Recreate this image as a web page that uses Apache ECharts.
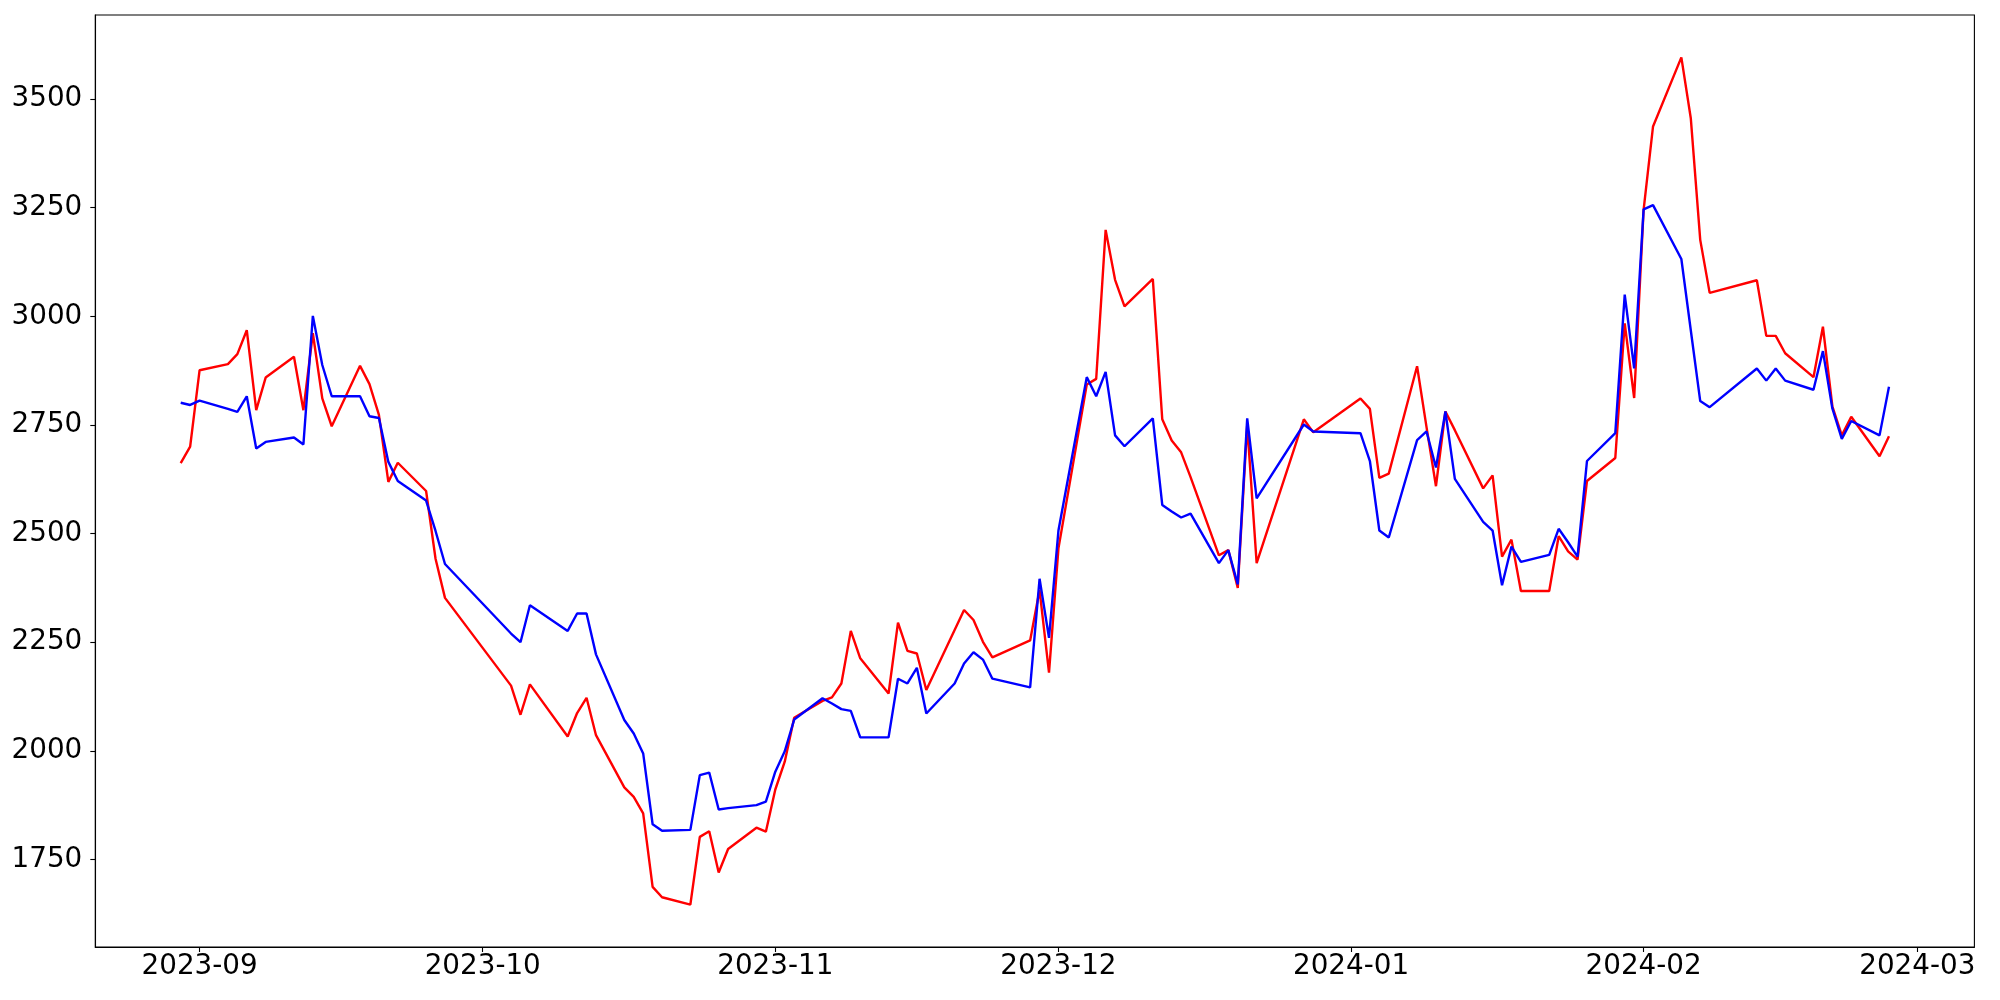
<!DOCTYPE html>
<html>
<head>
<meta charset="utf-8">
<script src="https://cdn.jsdelivr.net/npm/echarts@6/dist/echarts.min.js"></script>
<style>
html,body{margin:0;padding:0;background:#fff;}
#chart{width:2000px;height:1000px;}
</style>
</head>
<body>
<div id="chart"></div>
<script>
const dates = [
 '2023-08-30','2023-08-31','2023-09-01','2023-09-04','2023-09-05','2023-09-06','2023-09-07','2023-09-08',
 '2023-09-11','2023-09-12','2023-09-13','2023-09-14','2023-09-15','2023-09-18','2023-09-19','2023-09-20',
 '2023-09-21','2023-09-22','2023-09-25','2023-09-26','2023-09-27','2023-10-04','2023-10-05','2023-10-06',
 '2023-10-10','2023-10-11','2023-10-12','2023-10-13','2023-10-16','2023-10-17','2023-10-18','2023-10-19',
 '2023-10-20','2023-10-23','2023-10-24','2023-10-25','2023-10-26','2023-10-27','2023-10-30','2023-10-31',
 '2023-11-01','2023-11-02','2023-11-03','2023-11-06','2023-11-07','2023-11-08','2023-11-09','2023-11-10',
 '2023-11-13','2023-11-14','2023-11-15','2023-11-16','2023-11-17','2023-11-20','2023-11-21','2023-11-22',
 '2023-11-23','2023-11-24','2023-11-28','2023-11-29','2023-11-30','2023-12-01','2023-12-04','2023-12-05',
 '2023-12-06','2023-12-07','2023-12-08','2023-12-11','2023-12-12','2023-12-13','2023-12-14','2023-12-15',
 '2023-12-18','2023-12-19','2023-12-20','2023-12-21','2023-12-22','2023-12-27','2023-12-28','2024-01-02',
 '2024-01-03','2024-01-04','2024-01-05','2024-01-08','2024-01-09','2024-01-10','2024-01-11','2024-01-12',
 '2024-01-15','2024-01-16','2024-01-17','2024-01-18','2024-01-19','2024-01-22','2024-01-23','2024-01-24',
 '2024-01-25','2024-01-26','2024-01-29','2024-01-30','2024-01-31','2024-02-01','2024-02-02','2024-02-05',
 '2024-02-06','2024-02-07','2024-02-08','2024-02-13','2024-02-14','2024-02-15','2024-02-16','2024-02-19',
 '2024-02-20','2024-02-21','2024-02-22','2024-02-23','2024-02-26','2024-02-27'
];
const redValues = [
 2662,2700,2876,2890,2913,2968,2784,2859,
 2907,2784,2961,2811,2747,2886,2844,2773,
 2619,2663,2598,2442,2352,2150,2083,2153,
 2033,2087,2122,2036,1916,1894,1856,1687,
 1663,1646,1802,1815,1720,1774,1823,1814,
 1911,1975,2076,2115,2123,2155,2276,2213,
 2132,2295,2230,2224,2140,2278,2324,2301,
 2251,2215,2254,2370,2180,2466,2843,2856,
 3199,3084,3023,3086,2763,2714,2687,2630,
 2450,2462,2375,2750,2432,2763,2733,2811,
 2787,2628,2638,2885,2745,2609,2781,2738,
 2604,2634,2447,2486,2368,2368,2494,2459,
 2440,2621,2674,2984,2812,3245,3437,3596,
 3456,3176,3054,3083,2955,2955,2915,2860,
 2976,2793,2726,2769,2678,2724
];
const blueValues = [
 2801,2796,2806,2787,2780,2816,2696,2711,
 2721,2705,3001,2888,2816,2816,2770,2766,
 2665,2621,2576,2506,2430,2270,2250,2335,
 2276,2316,2316,2222,2071,2040,1994,1831,
 1816,1818,1944,1950,1865,1868,1875,1883,
 1952,1999,2072,2121,2109,2096,2092,2031,
 2031,2166,2155,2191,2086,2155,2201,2227,
 2210,2166,2146,2396,2260,2507,2860,2816,
 2872,2726,2701,2765,2566,2551,2537,2546,
 2432,2462,2383,2765,2581,2751,2735,2731,
 2667,2507,2491,2715,2735,2652,2781,2626,
 2527,2507,2381,2470,2435,2451,2511,2480,
 2447,2667,2731,3050,2880,3246,3256,3132,
 2968,2805,2791,2880,2852,2880,2852,2831,
 2920,2788,2718,2759,2726,2838
];
const yTicks = [1750, 2000, 2250, 2500, 2750, 3000, 3250, 3500];
const xTickLabels = ['2023-09','2023-10','2023-11','2023-12','2024-01','2024-02','2024-03'];

function toTs(s){ const p = s.split('-').map(Number); return Date.UTC(p[0], p[1]-1, p[2] || 1); }
const ts = dates.map(toTs);
const xTickTs = xTickLabels.map(toTs);
const labelOf = {};
xTickTs.forEach((t,i)=>{ labelOf[t] = xTickLabels[i]; });
const tMin = ts[0], tMax = ts[ts.length-1], tR = tMax - tMin;
const allV = redValues.concat(blueValues);
const vMin = Math.min.apply(null, allV), vMax = Math.max.apply(null, allV), vR = vMax - vMin;

const FONT = 'DejaVu Sans';
const chart = echarts.init(document.getElementById('chart'), null, {renderer:'canvas'});
chart.setOption({
  animation: false,
  backgroundColor: '#ffffff',
  grid: {left: 95.3, right: 25.6, top: 15, bottom: 53, show: true, borderColor: '#000', borderWidth: 1.1, backgroundColor: 'transparent'},
  xAxis: {
    type: 'value',
    min: tMin - 0.05*tR,
    max: tMax + 0.05*tR,
    splitLine: {show: false},
    axisLine: {show: true, onZero: false, lineStyle: {color: '#000', width: 1.1}},
    axisTick: {show: true, inside: false, length: 5, lineStyle: {color: '#000', width: 1.1}, customValues: xTickTs},
    axisLabel: {show: true, color: '#000', fontFamily: FONT, fontSize: 27.8, margin: 6,
      customValues: xTickTs, hideOverlap: false,
      alignMinLabel: 'center', alignMaxLabel: 'center',
      formatter: function(v){ return labelOf[v] !== undefined ? labelOf[v] : ''; }}
  },
  yAxis: {
    type: 'value',
    min: vMin - 0.05*vR,
    max: vMax + 0.05*vR,
    splitLine: {show: false},
    axisLine: {show: true, onZero: false, lineStyle: {color: '#000', width: 1.1}},
    axisTick: {show: true, inside: false, length: 5, lineStyle: {color: '#000', width: 1.1}, customValues: yTicks},
    axisLabel: {show: true, color: '#000', fontFamily: FONT, fontSize: 27.8, margin: 13, customValues: yTicks,
      formatter: function(v){ return String(Math.round(v)); }}
  },
  series: [
    {type: 'line', name: 'red', data: ts.map((t,i)=>[t, redValues[i]]), showSymbol: false, symbol: 'none',
     lineStyle: {color: '#ff0000', width: 2.4}, itemStyle: {color: '#ff0000'}},
    {type: 'line', name: 'blue', data: ts.map((t,i)=>[t, blueValues[i]]), showSymbol: false, symbol: 'none',
     lineStyle: {color: '#0000ff', width: 2.4}, itemStyle: {color: '#0000ff'}}
  ]
});
</script>
</body>
</html>
